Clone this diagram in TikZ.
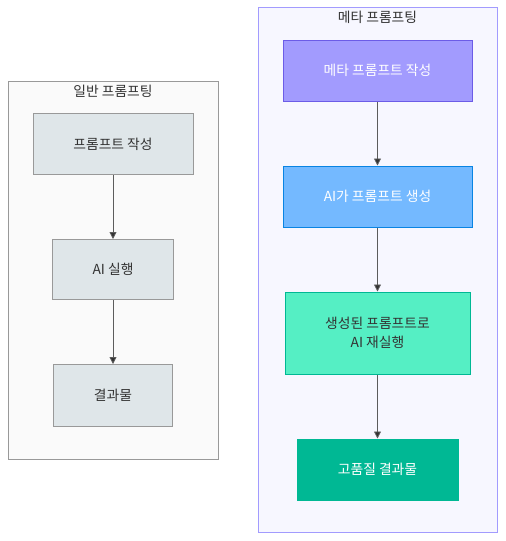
\documentclass[tikz,border=0pt]{standalone}
\usepackage{fontspec}
\setmainfont{Noto Sans CJK KR}
\usepackage{tikz}
\usetikzlibrary{positioning,arrows.meta}

\definecolor{boxgray}{HTML}{DFE6E9}
\definecolor{linegray}{HTML}{999999}
\definecolor{metafill}{HTML}{A29BFE}
\definecolor{metaline}{HTML}{6C5CE7}
\definecolor{aifill}{HTML}{74B9FF}
\definecolor{ailine}{HTML}{0984E3}
\definecolor{rerunfill}{HTML}{55EFC4}
\definecolor{resultfill}{HTML}{00B894}
\definecolor{textdark}{HTML}{333333}

\begin{document}
\begin{tikzpicture}[x=1pt,y=1pt,node distance=64pt,font=\fontsize{13.8}{19}\selectfont,
    cluster/.style={draw=linegray,fill=black!2,line width=0.8pt,inner sep=0pt},
    step box/.style={draw=linegray,fill=boxgray,line width=1pt,text=textdark,minimum height=61pt,align=center},
    flow/.style={draw=textdark!80,line width=0.8pt,-{Triangle[length=7pt,width=7pt,fill=textdark]}}] %
    \useasboundingbox (0,0) rectangle (506,-541); %
    % clusters
    \node[cluster,minimum width=210pt,minimum height=378pt] (general) at (113,-270) {}; %
    \node[cluster,draw=metafill,fill=blue!3,minimum width=239pt,minimum height=525pt] (meta) at (377.5,-269.5) {}; %
    \node[below=1pt of general.north,text=textdark] (generaltitle) {일반 프롬프팅}; %
    \node[below=1pt of meta.north,text=textdark] (metatitle) {메타 프롬프팅}; %
    % general prompting
    \node[step box,minimum width=160pt] (write) at (113,-144) {프롬프트 작성}; %
    \node[step box,minimum width=121pt,minimum height=60pt,below=of write] (run) {AI 실행}; %
    \node[step box,minimum width=119pt,minimum height=62pt,below=of run] (result) {결과물}; %
    % meta prompting
    \node[step box,draw=metaline,fill=metafill,text=white,minimum width=189pt] (metawrite) at (377.5,-70.5) {메타 프롬프트 작성}; %
    \node[step box,draw=ailine,fill=aifill,text=white,minimum width=189pt,below=of metawrite] (aigen) {AI가 프롬프트 생성}; %
    \node[step box,draw=resultfill,fill=rerunfill,minimum width=185pt,minimum height=82pt,below=of aigen] (rerun) {생성된 프롬프트로\\AI 재실행}; %
    \node[step box,draw=resultfill,fill=resultfill,text=white,minimum width=161pt,below=of rerun] (quality) {고품질 결과물}; %
    \draw[flow] (write)--(run); %
    \draw[flow] (run)--(result); %
    \draw[flow] (metawrite)--(aigen); %
    \draw[flow] (aigen)--(rerun); %
    \draw[flow] (rerun)--(quality); %
\end{tikzpicture}
\end{document}
